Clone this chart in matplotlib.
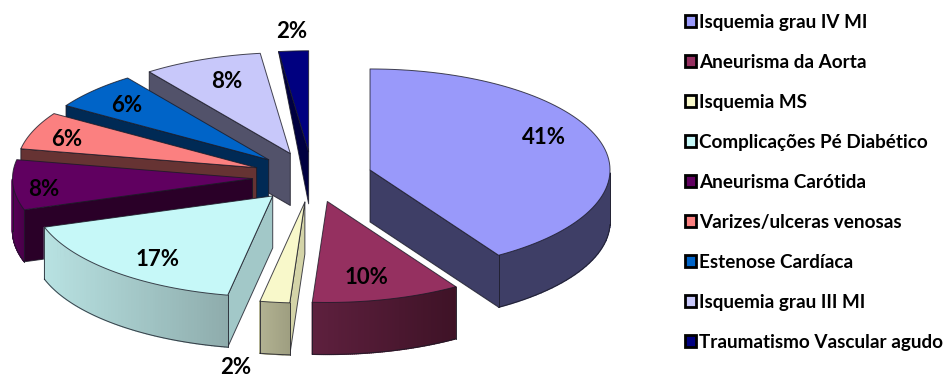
import numpy as np
from matplotlib import pyplot as plt
from matplotlib.colors import to_rgb
from matplotlib.patches import Patch, Polygon

plt.rcParams['font.family'] = ['Lato', 'DejaVu Sans']

labels = ['Isquemia grau IV MI', 'Aneurisma da Aorta', 'Isquemia MS',
          'Complicações Pé Diabético', 'Aneurisma Carótida',
          'Varizes/ulceras venosas', 'Estenose Cardíaca',
          'Isquemia grau III MI', 'Traumatismo Vascular agudo']
values = [41, 10, 2, 17, 8, 6, 6, 8, 2]

top_colors = ['#9999FA', '#953060', '#F8F8CA', '#C6F8F8', '#600060',
              '#FB8080', '#0064C8', '#C8C8FA', '#000080']
wall_colors = ['#3E3E66', '#501C36', '#D4D4A8', '#A2C8C8', '#2A0028',
               '#663333', '#002A55', '#52526A', '#000040']
# outer rim shading, left to right
rim_colors = [('#3E3E66', '#3E3E66'), ('#5E203E', '#3E1226'), ('#B2B292', '#9E9E80'),
              ('#B8E2E2', '#8EACAC'), ('#560056', '#480048'), ('#663333', '#663333'),
              ('#002A55', '#002A55'), ('#52526A', '#52526A'), ('#000040', '#000040')]

# percent label centres, in pixels
label_pos = [(544, 138), (366, 278), (236, 368), (158, 259), (44, 189),
             (67, 139), (127, 105), (227, 82), (292, 31)]

# pie geometry in pixels
CX, CY = 312.4, 177
RX, RY = 240, 101
DEPTH = 52
EXPLODE = 0.25
EDGE = (0.1, 0.1, 0.15, 0.8)


def point(theta, apex):
    return apex[0] + RX * np.sin(theta), apex[1] - RY * np.cos(theta)


def blend(c1, c2, t):
    a = np.array(to_rgb(c1))
    b = np.array(to_rgb(c2))
    return tuple(a + (b - a) * t)


def draw_slice(ax, start, end, top, wall, rim, zorder, pointed_wall=False):
    mid = (start + end) / 2
    apex = (CX + EXPLODE * RX * np.sin(mid), CY - EXPLODE * RY * np.cos(mid))
    thetas = np.linspace(start, end, 80)
    arc = np.array([point(t, apex) for t in thetas])

    # radial walls facing the viewer
    for theta, visible in ((start, np.sin(start) < -1e-6), (end, np.sin(end) > 1e-6)):
        if visible:
            p = point(theta, apex)
            corners = [apex, p, (p[0], p[1] + DEPTH), (apex[0], apex[1] + DEPTH)]
            if pointed_wall:
                corners = [apex, p, (apex[0], apex[1] + DEPTH)]
            ax.add_patch(Polygon(corners, fc=wall, ec=EDGE, lw=0.7, zorder=zorder,
                                 joinstyle='round'))

    # outer rim, only the part on the front half of the ellipse
    front = (thetas > np.pi / 2) & (thetas < 3 * np.pi / 2)
    if front.any():
        rim_arc = arc[front]
        x0, x1 = rim_arc[:, 0].min(), rim_arc[:, 0].max()
        for a, b in zip(rim_arc[:-1], rim_arc[1:]):
            t = ((a[0] + b[0]) / 2 - x0) / max(x1 - x0, 1)
            c = blend(rim[0], rim[1], t)
            ax.add_patch(Polygon([a, b, (b[0], b[1] + DEPTH), (a[0], a[1] + DEPTH)],
                                 fc=c, ec=c, lw=1.0, zorder=zorder))
        lower = rim_arc + [0, DEPTH]
        ax.plot(lower[:, 0], lower[:, 1], color=EDGE, lw=0.7, zorder=zorder)
        for p in (rim_arc[0], rim_arc[-1]):
            ax.plot([p[0], p[0]], [p[1], p[1] + DEPTH], color=EDGE, lw=0.7, zorder=zorder)

    ax.add_patch(Polygon(np.vstack([[apex], arc]), fc=top, ec=EDGE, lw=0.7,
                         zorder=zorder + 0.5, joinstyle='round'))


def main():
    fig = plt.figure(figsize=(9.48, 3.79), dpi=100)
    ax = fig.add_axes([0, 0, 1, 1])
    ax.set_xlim(0, 948)
    ax.set_ylim(379, 0)
    ax.axis('off')

    edges = np.cumsum([0] + values) / sum(values) * 2 * np.pi
    # paint from the back of the pie forward
    order = [8, 7, 6, 5, 4, 3, 2, 1, 0]
    for z, i in enumerate(order):
        draw_slice(ax, edges[i], edges[i + 1], top_colors[i], wall_colors[i], rim_colors[i],
                   2 + z, pointed_wall=(i == 8))

    for value, pos in zip(values, label_pos):
        ax.text(pos[0], pos[1], f'{value}%', ha='center', va='center', fontsize=16,
                fontweight='bold', color='black', zorder=30)

    handles = [Patch(fc=c, ec='black', lw=2.0) for c in top_colors]
    ax.legend(handles, labels, loc='upper left', bbox_to_anchor=(679 / 948, 1 - 8 / 379),
              frameon=False, prop={'size': 13.6, 'weight': 'bold'}, labelspacing=1.22,
              handlelength=0.62, handleheight=0.62, handletextpad=0.15, borderpad=0.3,
              borderaxespad=0)

    fig.savefig('out.png', dpi=100)


if __name__ == '__main__':
    main()
